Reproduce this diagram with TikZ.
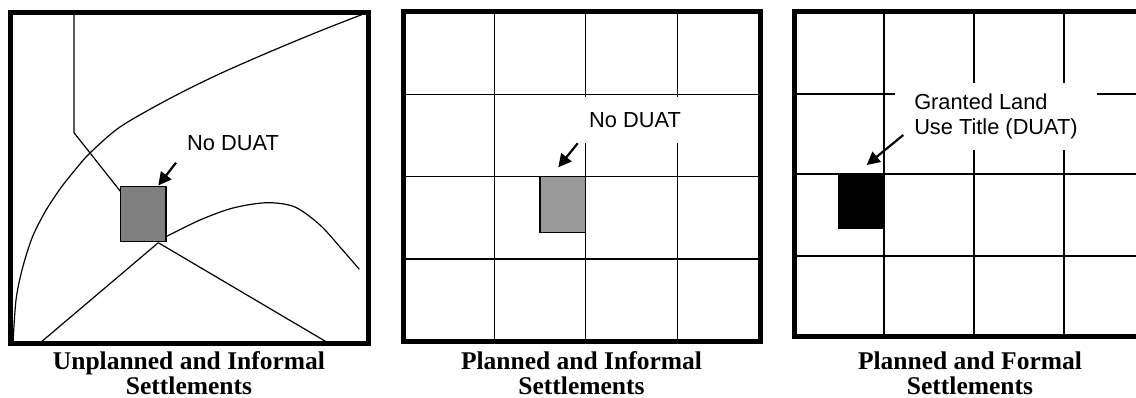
\documentclass[tikz,border=0pt]{standalone}
\usepackage{fontspec}
\setmainfont{Liberation Sans}
\newfontfamily\capfont{Liberation Serif}
\usetikzlibrary{arrows.meta}
\tikzset{
  panel/.style={line width=5pt, line join=miter},
  road/.style={line width=1.2pt},
  gridl/.style={line width=1.3pt},
  plot1/.style={draw=black, line width=1.2pt, fill=#1},
  lbl/.style={font=\fontsize{21.8}{25}\selectfont, inner sep=0pt},
  captxt/.style={font=\capfont\bfseries\fontsize{25.5}{25}\selectfont, anchor=base, inner sep=0pt},
  arr/.style={line width=2.2pt, -{Triangle[length=13pt,width=13pt]}},
}
\begin{document}
\begin{tikzpicture}[x=1pt,y=-1pt]
\useasboundingbox (0,0) rectangle (1136,398);
\fill[white] (0,0) rectangle (1136,398);

% ---------- Panel 1 ----------
\draw[road] (74,12.5) -- (74,132.7) -- (120.7,191.7);
\draw[road] plot[smooth] coordinates {(13,343) (16,300) (22,270) (32,238) (45,212) (60,189) (75,170) (90,153) (120,127) (167,100) (215,76) (267,53) (320,31) (366,13)};
\draw[road] plot[smooth] coordinates {(166,236.7) (200,220) (233,208) (267,202.7) (295,207) (320,225) (340,247) (359.3,269.3)};
\draw[road] (158.3,242.7) -- (40,343);
\draw[road] (158.3,242.7) -- (328.3,343);
\draw[plot1={black!50}] (120.7,186.7) rectangle (166,241.7);
\node[lbl] (l1) at (233,142.7) {No DUAT};
\coordinate (a1s) at (176,162.7);
\coordinate (a1e) at (158.3,185.5);
\draw[arr] (a1s) -- (a1e);
\draw[panel] (10.5,12.5) rectangle (368,343);

% ---------- Panel 2 ----------
\foreach \x in {494.3,585.7,677.3} \draw[gridl] (\x,12) -- (\x,341.5);
\foreach \y in {94.3,176.7,259} \draw[gridl] (403,\y) -- (760,\y);
\draw[plot1={black!40}] (540,176.7) rectangle (585.7,232.3);
\node[lbl, fill=white, minimum width=104pt, minimum height=46pt] (l2) at (635,120) {No DUAT};
\coordinate (a2s) at (577.7,143.3);
\coordinate (a2e) at (558.3,167.3);
\draw[arr] (a2s) -- (a2e);
\draw[panel] (403,12) rectangle (760,341.5);

% ---------- Panel 3 ----------
\foreach \x in {884,974,1064} \draw[gridl] (\x,12) -- (\x,336);
\foreach \y in {94,174,256} \draw[gridl] (794,\y) -- (1150,\y);
\fill[black] (838.3,174) rectangle (884,229.3);
\node[lbl, fill=white, align=left, inner xsep=19pt, minimum height=67pt] (l3) at (996,116.5) {Granted Land\\Use Title (DUAT)};
\coordinate (a3s) at (903.3,135);
\coordinate (a3e) at (866.7,165);
\draw[arr] (a3s) -- (a3e);
\draw[panel] (794,12) rectangle (1160,336);

% ---------- Captions ----------
\node[captxt] (c1a) at (189,369.5) {Unplanned and Informal};
\node[captxt] (c1b) at (189,394) {Settlements};
\node[captxt] (c2a) at (581.5,369.5) {Planned and Informal};
\node[captxt] (c2b) at (581.5,394) {Settlements};
\node[captxt] (c3a) at (970,369.5) {Planned and Formal};
\node[captxt] (c3b) at (970,394) {Settlements};
\end{tikzpicture}
\end{document}
